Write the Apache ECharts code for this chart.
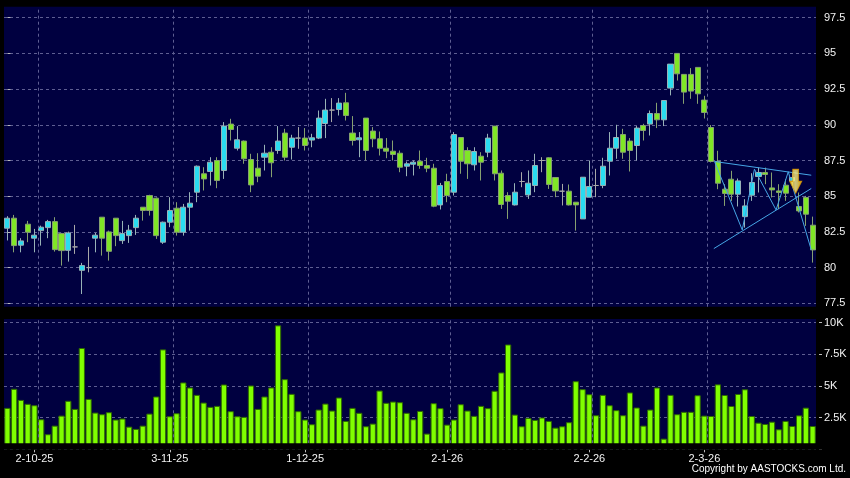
<!DOCTYPE html>
<html><head><meta charset="utf-8">
<script src="https://cdn.jsdelivr.net/npm/echarts@6/dist/echarts.min.js"></script>
<style>html,body{margin:0;padding:0;background:#000;}#c{width:850px;height:478px;}</style>
</head><body><div id="c"></div>
<script>
// ---------- data ----------
const dates = [
'25-9-25','26-9-25','29-9-25','30-9-25',
'2-10-25','3-10-25','6-10-25','8-10-25','9-10-25','10-10-25','13-10-25','14-10-25','15-10-25','16-10-25','17-10-25','20-10-25','21-10-25','22-10-25','23-10-25','24-10-25','27-10-25','28-10-25','30-10-25','31-10-25',
'3-11-25','4-11-25','5-11-25','6-11-25','7-11-25','10-11-25','11-11-25','12-11-25','13-11-25','14-11-25','17-11-25','18-11-25','19-11-25','20-11-25','21-11-25','24-11-25','25-11-25','26-11-25','27-11-25','28-11-25',
'1-12-25','2-12-25','3-12-25','4-12-25','5-12-25','8-12-25','9-12-25','10-12-25','11-12-25','12-12-25','15-12-25','16-12-25','17-12-25','18-12-25','19-12-25','22-12-25','23-12-25','24-12-25','29-12-25','30-12-25','31-12-25',
'2-1-26','5-1-26','6-1-26','7-1-26','8-1-26','9-1-26','12-1-26','13-1-26','14-1-26','15-1-26','16-1-26','19-1-26','20-1-26','21-1-26','22-1-26','23-1-26','26-1-26','27-1-26','28-1-26','29-1-26','30-1-26',
'2-2-26','3-2-26','4-2-26','5-2-26','6-2-26','9-2-26','10-2-26','11-2-26','12-2-26','13-2-26','16-2-26','20-2-26','23-2-26','24-2-26','25-2-26','26-2-26','27-2-26',
'2-3-26','3-3-26','4-3-26','5-3-26','6-3-26','9-3-26','10-3-26','11-3-26','12-3-26','13-3-26','16-3-26','17-3-26','18-3-26','19-3-26','20-3-26','23-3-26','24-3-26'
];
const opens = [
82.76,83.46,81.57,83.04,82.06,82.59,82.80,83.22,82.38,81.21,81.45,79.81,80.00,82.06,83.53,82.50,83.46,81.89,82.24,82.80,
84.23,85.05,84.86,81.78,83.18,84.16,82.48,84.23,85.28,86.57,86.73,87.50,86.80,90.05,88.36,88.86,87.57,86.96,87.73,88.08,
88.20,89.42,88.43,89.07,89.07,88.93,89.07,90.09,91.03,91.07,91.54,89.42,88.95,90.47,89.56,89.02,88.36,88.15,88.01,87.10,
87.24,87.45,87.15,86.96,84.39,86.03,85.28,89.11,88.20,87.20,87.80,88.08,89.91,86.61,85.05,84.39,86.03,85.09,85.75,87.50,
87.69,86.31,85.35,85.35,84.58,83.41,84.93,85.75,85.75,87.45,88.36,89.32,88.86,88.55,89.95,90.05,90.79,90.35,92.57,95.00,
93.53,93.53,94.02,91.73,89.81,87.43,85.49,86.19,85.14,83.57,85.07,86.38,86.66,85.58,85.37,85.77,86.07,84.28,84.91,82.97
];
const closes = [
83.46,81.54,81.87,82.48,82.27,82.83,83.22,81.26,81.19,82.43,81.45,80.14,80.00,82.27,82.06,81.14,82.24,82.38,82.62,83.46,
84.00,84.00,82.24,83.18,84.00,82.48,84.23,84.51,87.10,86.21,87.38,86.10,89.91,89.67,88.95,87.62,85.79,86.40,88.01,87.34,
88.86,87.73,89.07,89.07,88.55,89.09,90.47,91.03,91.03,91.52,90.65,88.90,89.09,88.20,89.02,88.36,88.15,87.92,87.03,87.27,
87.38,87.15,86.96,84.30,85.75,85.05,89.32,87.45,87.27,88.13,87.38,89.07,86.57,84.42,84.65,85.28,86.03,85.91,87.15,87.50,
85.82,85.37,85.35,84.39,84.39,86.33,85.68,85.75,87.10,88.36,89.11,88.08,88.20,89.77,89.60,90.79,90.35,91.70,94.25,93.57,
92.29,92.36,92.17,90.86,87.43,85.91,85.19,85.14,86.07,84.32,85.96,86.66,86.52,85.44,85.26,85.21,86.31,83.97,83.74,81.24
];
const lows = [
81.90,81.07,81.07,81.78,81.07,81.54,82.06,81.12,80.14,80.42,80.96,78.15,79.67,81.07,80.84,80.49,81.50,81.66,81.73,82.29,
83.29,83.64,82.01,81.66,82.83,82.24,82.24,82.59,84.58,85.40,85.75,85.56,86.21,88.90,88.20,87.27,85.28,85.98,86.80,86.33,
87.97,87.50,87.57,88.32,88.20,88.43,89.00,89.07,90.19,90.65,90.30,88.55,87.73,87.50,88.43,87.85,87.66,87.50,86.68,86.40,
86.45,86.92,86.68,84.23,84.07,84.58,85.05,86.57,86.21,86.80,86.10,87.73,86.10,84.11,83.41,84.35,85.63,84.81,85.28,86.68,
85.51,84.93,84.35,84.35,82.59,83.41,84.93,84.93,85.56,86.45,87.62,87.62,86.73,87.50,88.90,89.25,89.77,89.91,92.06,93.10,
91.47,91.82,91.47,90.44,87.36,85.49,84.32,84.67,84.28,82.80,84.67,85.26,85.84,84.91,84.09,84.67,85.72,83.86,82.92,80.35
];
const highs = [
83.60,83.69,82.06,83.27,82.71,82.94,83.34,83.53,82.43,82.52,82.99,80.33,81.45,82.43,83.53,82.59,83.46,83.27,82.99,83.69,
84.23,85.10,84.91,83.22,84.93,84.58,84.46,85.28,87.15,87.03,87.73,87.73,90.19,90.42,89.91,88.90,87.97,88.01,88.60,88.43,
89.91,89.72,89.30,89.84,89.77,89.37,91.00,91.82,91.87,91.87,92.24,90.61,89.49,90.47,89.84,89.53,89.07,88.90,88.20,87.43,
87.50,88.20,87.69,87.27,85.93,86.57,89.49,89.11,88.43,88.43,88.08,89.37,89.91,86.80,85.28,85.91,86.68,86.80,87.97,87.73,
87.73,86.31,85.86,85.82,84.58,86.33,87.50,86.92,87.69,89.49,90.00,89.72,89.07,89.91,90.07,91.00,91.54,91.70,94.25,95.00,
93.53,93.97,94.02,92.03,89.98,88.18,85.84,86.78,86.24,84.79,86.61,87.01,87.00,86.66,85.84,86.19,86.71,85.26,85.02,83.57
];
const volumes = [
3270,4780,3900,3590,3480,2370,1190,1870,2660,3830,3190,8000,3980,2900,2770,2930,2350,2430,1790,1610,
1870,2820,4170,7890,2610,2850,5280,4880,4300,3690,3350,3430,5120,3010,2610,2560,5040,3190,4170,4880,
9790,5540,4380,3010,2350,1980,3140,3610,3060,4090,2240,3270,2880,1820,2030,4640,3670,3770,3720,2880,
2370,3030,1240,3640,3250,1950,2350,3560,3060,2640,3430,3250,4620,6070,8280,2740,1820,2480,2320,2510,
2240,1710,1820,2140,5380,4750,4350,2690,4300,3480,3090,2690,4490,3300,1870,3140,4880,840,4300,2770,
2960,2960,4270,2660,2630,5130,4290,3420,4370,4740,2630,2100,2000,2180,1580,2240,1840,2680,3290,1840
];
const tickLabels = ['2-10-25','3-11-25','1-12-25','2-1-26','2-2-26','2-3-26'];
const priceMin = 77.5, priceMax = 97.5, priceStep = 2.5;
const volumeMax = 10000, volumeStep = 2500;
// chart pattern annotation (category index, price)
const patternUpper = [[104.5, 87.43], [118.8, 86.47]];
const patternLower = [[104.4, 81.33], [118.8, 85.54]];
const patternZigzag = [[104.5, 87.43], [108.6, 82.64], [110.4, 86.89], [113.6, 84.04], [115.4, 86.71], [118.8, 81.24]];
const signalArrow = [[116.5, 86.04]];

// ---------- chart ----------
const FONT = 'Liberation Sans, Arial, sans-serif';
const NAVY = '#000040';
const GRIDC = '#5e5e92';
const n = dates.length;
const candleData = dates.map((d, i) => [opens[i], closes[i], lows[i], highs[i]]);
const vLines = tickLabels.map(l => ({ xAxis: dates.indexOf(l) + 0.5 }));
const showLabel = (idx, val) => tickLabels.indexOf(val) >= 0;

const P = { left: 4, width: 812 };
const chart = echarts.init(document.getElementById('c'), null, { renderer: 'canvas' });
const dashed = { type: [3, 3], color: GRIDC, width: 1 };
const markVLines = {
  silent: true, symbol: ['none', 'none'], label: { show: false },
  lineStyle: dashed, emphasis: { disabled: true }, animation: false, data: vLines
};

chart.setOption({
  backgroundColor: '#000000',
  animation: false,
  title: {
    text: 'Copyright by AASTOCKS.com Ltd.', right: 4, top: 464, padding: 0,
    textStyle: { color: '#ffffff', fontSize: 10, fontWeight: 'normal', fontFamily: FONT }
  },
  graphic: [
    { type: 'rect', z: -10, silent: true, shape: { x: 4, y: 6.7, width: 812, height: 300 }, style: { fill: NAVY } },
    { type: 'rect', z: -10, silent: true, shape: { x: 4, y: 319, width: 812, height: 124.3 }, style: { fill: NAVY } },
    { type: 'rect', z: 100, silent: true, shape: { x: 0, y: 443.3, width: 850, height: 6.4 }, style: { fill: '#000000' } }
  ],
  grid: [
    { left: P.left, width: P.width, top: 17.7, height: 285.6 },
    { left: P.left, width: P.width, top: 322.7, height: 126.6 },
    { left: P.left, width: P.width, top: 6.7, height: 300 },
    { left: P.left, width: P.width, top: 319, height: 124.3 }
  ],
  xAxis: [
    { type: 'category', gridIndex: 0, data: dates, boundaryGap: true, axisLine: { show: false }, axisTick: { show: false }, axisLabel: { show: false }, splitLine: { show: false } },
    { type: 'category', gridIndex: 1, data: dates, boundaryGap: true, axisLine: { show: false },
      axisTick: { show: true, interval: showLabel, alignWithLabel: true, length: 3, lineStyle: { color: '#bbbbbb' } },
      axisLabel: { show: true, interval: showLabel, color: '#f2f2f2', fontSize: 11, fontFamily: FONT, margin: 4 },
      splitLine: { show: false } },
    { type: 'value', gridIndex: 0, min: -0.5, max: n - 0.5, show: false },
    { type: 'value', gridIndex: 2, min: -0.5, max: n - 0.5, show: false },
    { type: 'value', gridIndex: 3, min: -0.5, max: n - 0.5, show: false }
  ],
  yAxis: [
    { type: 'value', gridIndex: 0, position: 'right', min: priceMin, max: priceMax, interval: priceStep, offset: 3,
      axisLine: { show: false }, axisTick: { show: true, length: 3, lineStyle: { color: '#bbbbbb' } },
      axisLabel: { color: '#f2f2f2', fontSize: 11, fontFamily: FONT, margin: 5 },
      splitLine: { show: true, lineStyle: dashed } },
    { type: 'value', gridIndex: 1, position: 'right', min: 0, max: volumeMax, interval: volumeStep, offset: 3,
      axisLine: { show: false }, axisTick: { show: true, length: 3, lineStyle: { color: '#bbbbbb' } },
      axisLabel: { color: '#f2f2f2', fontSize: 11, fontFamily: FONT, margin: 5,
        formatter: v => v === 0 ? '' : (v / 1000) + 'K' },
      splitLine: { show: true, lineStyle: dashed } },
    { type: 'value', gridIndex: 2, min: 0, max: 1, show: false },
    { type: 'value', gridIndex: 3, min: 0, max: 1, show: false }
  ],
  series: [
    { type: 'line', xAxisIndex: 3, yAxisIndex: 2, data: [], silent: true, markLine: markVLines },
    { type: 'line', xAxisIndex: 4, yAxisIndex: 3, data: [], silent: true, markLine: markVLines },
    {
      name: 'price', type: 'candlestick', xAxisIndex: 0, yAxisIndex: 0, data: candleData,
      barWidth: '82%',
      itemStyle: {
        color: '#2adcf0', color0: '#80e626',
        borderColor: '#98b2b6', borderColor0: '#86a070', borderColorDoji: '#a8a8a8', borderWidth: 1
      }
    },
    {
      name: 'volume', type: 'bar', xAxisIndex: 1, yAxisIndex: 1, data: volumes,
      barWidth: '92%',
      itemStyle: { color: '#80ff00', borderColor: '#2f6a00', borderWidth: 1 }
    },
    { type: 'line', xAxisIndex: 2, yAxisIndex: 0, data: patternUpper, symbol: 'none', silent: true, z: 5,
      lineStyle: { color: '#46a6e6', width: 1 } },
    { type: 'line', xAxisIndex: 2, yAxisIndex: 0, data: patternLower, symbol: 'none', silent: true, z: 5,
      lineStyle: { color: '#46a6e6', width: 1 } },
    { type: 'line', xAxisIndex: 2, yAxisIndex: 0, data: patternZigzag, symbol: 'none', silent: true, z: 5,
      lineStyle: { color: '#46a6e6', width: 1 } },
    { type: 'scatter', xAxisIndex: 2, yAxisIndex: 0, data: signalArrow, silent: true, z: 6,
      symbol: 'path://M3,0 L9,0 L9,12 L12,12 L6,24 L0,12 L3,12 Z', symbolSize: [12, 24],
      itemStyle: {
        color: new echarts.graphic.LinearGradient(0, 0, 1, 0, [
          { offset: 0, color: '#ffc800' }, { offset: 0.5, color: '#fff48c' }, { offset: 1, color: '#ffc800' }]),
        borderColor: '#e09a00', borderWidth: 1
      } }
  ]
});
</script>
</body></html>
